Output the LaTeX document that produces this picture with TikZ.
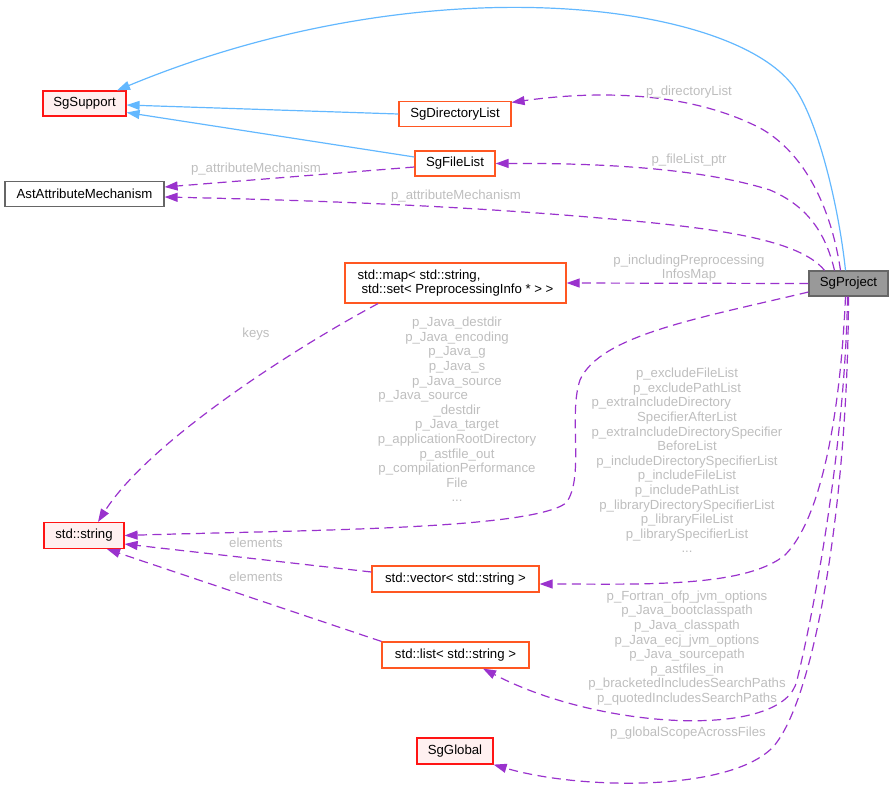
\documentclass[tikz,border=0pt]{standalone}
\usepackage{fontspec}
\setmainfont{Liberation Sans}
\usetikzlibrary{arrows.meta}
\definecolor{inh}{RGB}{99,184,255}
\definecolor{rel}{RGB}{154,50,205}
\definecolor{lblc}{RGB}{190,190,190}
\definecolor{boxred}{RGB}{255,20,20}
\definecolor{boxorange}{RGB}{255,87,34}
\definecolor{pinkfill}{RGB}{255,240,240}
\definecolor{gbord}{RGB}{102,102,102}
\definecolor{projfill}{RGB}{153,153,153}
\newcommand\dgfont{\fontsize{13.2}{14.6}\selectfont}
\begin{document}
\begin{tikzpicture}[x=1pt,y=-1pt,
  box/.style={draw, line width=1.2pt, inner sep=0pt, font=\dgfont, minimum height=25pt},
  redbox/.style={box, draw=boxred, fill=pinkfill},
  orbox/.style={box, draw=boxorange, fill=white},
  graybox/.style={box, draw=gbord, fill=white},
  lbl/.style={text=lblc, font=\dgfont, align=center, inner sep=0pt},
  inhedge/.style={draw=inh, line width=1.2pt, -{Triangle[length=13pt,width=9pt]}},
  reledge/.style={draw=rel, line width=1.2pt, dash pattern=on 9pt off 5.5pt, -{Triangle[length=13pt,width=9pt]}}
]
\useasboundingbox (0,0) rectangle (893,793);

% nodes
\node[redbox, minimum width=83pt] (sup) at (84.5,103.5) {SgSupport};
\node[orbox, minimum width=112pt] (dir) at (455,114) {SgDirectoryList};
\node[orbox, minimum width=80pt] (fl) at (455,163.5) {SgFileList};
\node[graybox, minimum width=159pt] (aam) at (84.5,194) {AstAttributeMechanism};
\node[orbox, minimum width=221pt, minimum height=40pt, align=left] (map) at (455.5,283) {std::map< std::string,\\\hspace*{4pt}std::set< PreprocessingInfo * > >};
\node[box, draw=gbord, fill=projfill, minimum width=79pt] (proj) at (848.5,283.5) {SgProject};
\node[redbox, minimum width=80pt, minimum height=26pt] (str) at (84,535.5) {std::string};
\node[orbox, minimum width=167pt, minimum height=26pt] (vec) at (455.5,579) {std::vector< std::string >};
\node[orbox, minimum width=147pt, minimum height=26pt] (lst) at (455.5,655) {std::list< std::string >};
\node[redbox, minimum width=76pt, minimum height=26pt] (glob) at (455,751) {SgGlobal};

% inheritance edges
\draw[inhedge] ([xshift=-3pt]proj.north) .. controls (838,200) and (815,110) .. (790,82) .. controls (720,0) and (420,-35) .. ([xshift=32.5pt]sup.north);
\draw[inhedge] (dir.west) -- ([yshift=-1.5pt]sup.east);
\draw[inhedge] ([yshift=6.5pt]fl.west) -- ([yshift=-9pt]sup.east);

% relation edges
\draw[reledge] ([xshift=-8pt]proj.north) .. controls (830,200) and (800,150) .. (760,128) .. controls (690,92) and (600,90) .. ([yshift=-1.5pt]dir.north east);
\draw[reledge] ([xshift=-14pt]proj.north) .. controls (825,230) and (805,205) .. (770,190) .. controls (700,168) and (600,163) .. (fl.east);
\draw[reledge] ([yshift=-3.5pt]fl.west) -- ([yshift=7pt]aam.east);
\draw[reledge] ([xshift=-24pt]proj.north) .. controls (800,240) and (720,228) .. (600,218) .. controls (450,205) and (300,200) .. ([yshift=-3pt]aam.east);
\draw[reledge] (proj.west) -- (map.east);
\draw[reledge] ([xshift=-77.5pt]map.south) .. controls (300,345) and (150,440) .. ([xshift=14pt]str.north);
\draw[reledge] ([yshift=-8.5pt]proj.west) .. controls (700,318) and (600,335) .. (580,380) .. controls (568,415) and (585,478) .. (566,503) .. controls (530,530) and (300,530) .. (str.east);
\draw[reledge] ([yshift=7pt]vec.west) -- ([yshift=-8.5pt]str.east);
\draw[reledge] (lst.north west) -- ([xshift=23pt]str.south);
\draw[reledge] ([xshift=-3pt]proj.south) .. controls (840,420) and (820,520) .. (785,555) .. controls (745,588) and (640,584) .. ([yshift=-5pt]vec.east);
\draw[reledge] ([xshift=-1pt]proj.south) .. controls (845,450) and (812,620) .. (797,680) .. controls (785,740) and (600,730) .. ([xshift=27.5pt]lst.south);
\draw[reledge] (proj.south) .. controls (848,500) and (815,700) .. (773,747) .. controls (730,792) and (580,790) .. (glob.south east);

% labels
\node[lbl] (ldir) at (689,92) {p\_directoryList};
\node[lbl] (lfl) at (689,160) {p\_fileList\_ptr};
\node[lbl] (lam1) at (256,169) {p\_attributeMechanism};
\node[lbl] (lam2) at (456,196) {p\_attributeMechanism};
\node[lbl] (lmap) at (689,268) {p\_includingPreprocessing\\InfosMap};
\node[lbl] (lkeys) at (256,334) {keys};
\node[lbl] (ljava) at (457,409.5) {p\_Java\_destdir\\p\_Java\_encoding\\p\_Java\_g\\p\_Java\_s\\p\_Java\_source\\\rlap{p\_Java\_source}\hphantom{p\_compilationPerformance}\\\_destdir\\p\_Java\_target\\p\_applicationRootDirectory\\p\_astfile\_out\\p\_compilationPerformance\\File\\...};
\node[lbl] (lexcl) at (687,460.5) {p\_excludeFileList\\p\_excludePathList\\\rlap{p\_extraIncludeDirectory}\hphantom{p\_extraIncludeDirectorySpecifier}\\SpecifierAfterList\\p\_extraIncludeDirectorySpecifier\\BeforeList\\p\_includeDirectorySpecifierList\\p\_includeFileList\\p\_includePathList\\p\_libraryDirectorySpecifierList\\p\_libraryFileList\\p\_librarySpecifierList\\...};
\node[lbl] (lel1) at (256,543) {elements};
\node[lbl] (lel2) at (256,577) {elements};
\node[lbl] (lfort) at (687,648) {p\_Fortran\_ofp\_jvm\_options\\p\_Java\_bootclasspath\\p\_Java\_classpath\\p\_Java\_ecj\_jvm\_options\\p\_Java\_sourcepath\\p\_astfiles\_in\\p\_bracketedIncludesSearchPaths\\p\_quotedIncludesSearchPaths};
\node[lbl] (lglob) at (688,733) {p\_globalScopeAcrossFiles};
\end{tikzpicture}
\end{document}
